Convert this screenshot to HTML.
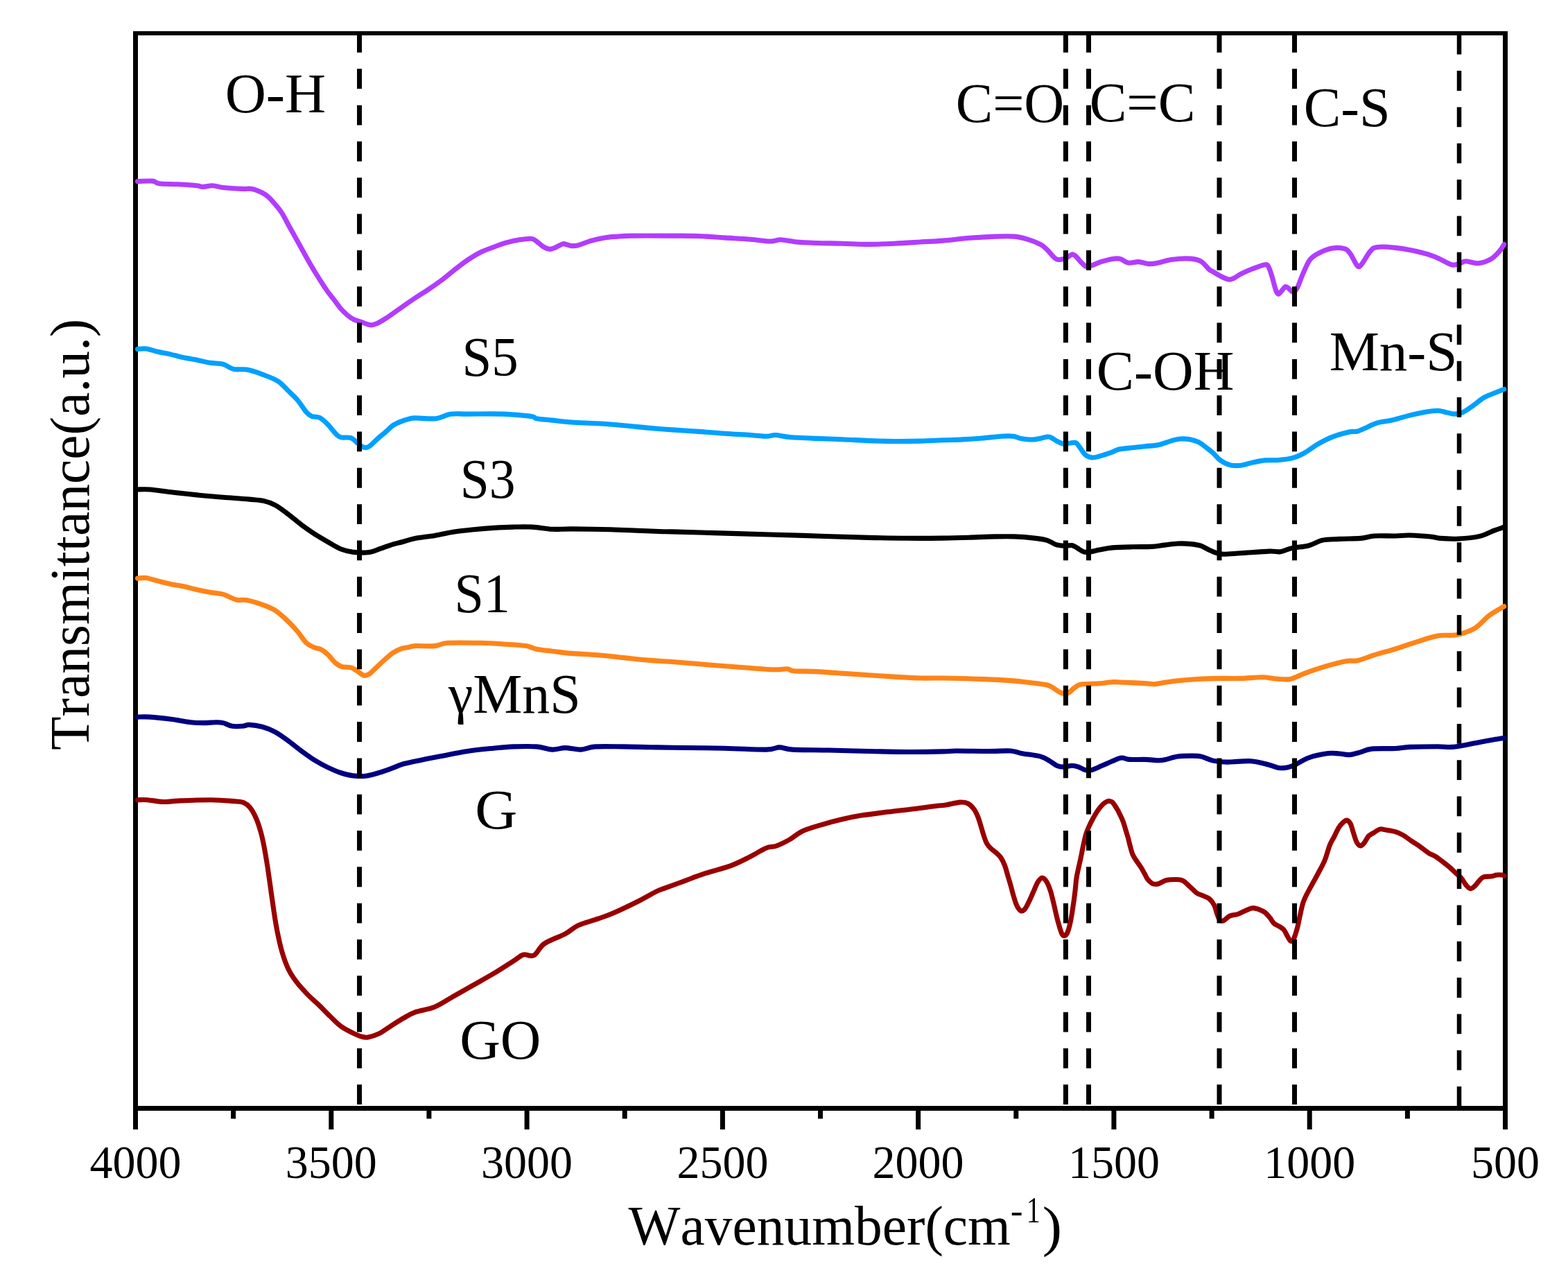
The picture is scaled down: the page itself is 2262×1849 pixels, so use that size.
<!DOCTYPE html><html><head><meta charset="utf-8"><title>FTIR</title><style>html,body{margin:0;padding:0;background:#fff;}svg{display:block;font-kerning:none;}</style></head><body><svg width="2262" height="1849" viewBox="0 0 2262 1849" font-family="'Liberation Serif', 'Times New Roman', serif" fill="#000"><rect width="100%" height="100%" fill="#fff"/><g fill="#000"><rect x="192" y="45" width="1983" height="6"/><rect x="192" y="1595" width="1983" height="7"/><rect x="192" y="45" width="7" height="1557"/><rect x="2168" y="45" width="7" height="1557"/><rect x="192.0" y="1600" width="7" height="29"/><rect x="474.3" y="1600" width="7" height="29"/><rect x="756.6" y="1600" width="7" height="29"/><rect x="1038.9" y="1600" width="7" height="29"/><rect x="1321.1" y="1600" width="7" height="29"/><rect x="1603.4" y="1600" width="7" height="29"/><rect x="1885.7" y="1600" width="7" height="29"/><rect x="2168.0" y="1600" width="7" height="29"/><rect x="333.1" y="1600" width="7" height="13.5"/><rect x="615.4" y="1600" width="7" height="13.5"/><rect x="897.7" y="1600" width="7" height="13.5"/><rect x="1180.0" y="1600" width="7" height="13.5"/><rect x="1462.3" y="1600" width="7" height="13.5"/><rect x="1744.6" y="1600" width="7" height="13.5"/><rect x="2026.9" y="1600" width="7" height="13.5"/></g><g fill="none" stroke-width="7.1" stroke-linejoin="round" stroke-linecap="round"><path d="M198.5 261.6C202.1 261.5 214.9 260.6 220.1 261.1C225.3 261.6 223.5 264.0 229.5 264.8C235.5 265.6 246.8 265.3 255.9 265.8C265.0 266.3 278.2 267.1 284.2 267.7C290.2 268.3 287.9 269.5 291.7 269.5C295.5 269.5 301.8 267.5 306.8 267.7C311.8 267.9 314.6 269.7 321.8 270.5C329.0 271.3 343.1 272.1 350.0 272.4C356.9 272.7 358.6 271.5 363.3 272.4C368.0 273.3 374.2 276.0 378.3 278.0C382.4 280.0 384.6 281.8 387.7 284.6C390.8 287.4 394.0 291.2 397.2 295.0C400.4 298.8 403.5 302.3 406.6 307.2C409.7 312.1 412.9 318.5 416.0 324.2C419.1 329.9 422.3 335.5 425.4 341.1C428.5 346.7 431.7 352.4 434.8 358.0C437.9 363.6 441.1 369.5 444.2 375.0C447.3 380.5 450.5 385.8 453.6 391.0C456.8 396.2 460.0 401.2 463.1 406.1C466.2 411.0 469.4 415.8 472.5 420.2C475.6 424.6 478.8 428.3 481.9 432.4C485.0 436.5 488.2 441.1 491.3 444.7C494.4 448.3 497.6 451.4 500.7 454.1C503.8 456.8 506.7 459.0 510.2 460.7C513.7 462.4 517.4 463.1 521.5 464.5C525.6 465.9 530.9 468.5 534.6 468.8C538.4 469.1 540.2 468.1 544.0 466.4C547.8 464.7 551.9 462.3 557.2 458.8C562.5 455.3 569.1 450.4 576.0 445.6C582.9 440.8 591.8 434.5 598.8 429.9C605.8 425.2 611.4 421.9 617.7 417.7C624.0 413.5 630.2 409.2 636.5 404.5C642.8 399.8 649.0 394.4 655.3 389.5C661.6 384.6 667.9 379.6 674.2 375.3C680.5 371.1 686.7 367.1 693.0 364.0C699.3 360.9 705.5 358.9 711.8 356.5C718.1 354.1 724.4 351.7 730.7 349.9C737.0 348.1 743.5 346.7 749.5 345.8C755.5 344.9 762.3 343.9 766.4 344.3C770.5 344.7 771.2 346.1 774.0 348.0C776.8 349.9 780.3 353.7 783.4 355.6C786.5 357.5 790.0 359.0 792.8 359.3C795.6 359.6 797.2 358.6 800.3 357.4C803.4 356.1 808.8 352.6 811.6 351.8C814.4 351.0 815.1 352.2 817.3 352.7C819.5 353.2 822.0 354.4 824.8 354.6C827.6 354.8 829.5 354.9 834.2 353.7C838.9 352.4 846.8 348.9 853.1 347.1C859.4 345.3 865.6 343.9 871.9 342.9C878.2 341.9 884.4 341.6 890.7 341.1C897.0 340.6 896.4 340.3 909.6 340.1C922.8 339.9 953.6 340.0 970.0 340.1C986.4 340.2 995.2 340.0 1007.7 340.5C1020.2 341.0 1032.8 342.1 1045.3 342.9C1057.8 343.7 1072.0 344.3 1083.0 345.2C1094.0 346.1 1104.0 347.9 1111.2 348.0C1118.4 348.1 1120.0 345.6 1126.3 345.8C1132.6 346.0 1140.4 348.2 1148.9 349.0C1157.4 349.8 1166.2 350.1 1177.2 350.5C1188.2 350.9 1202.9 350.9 1214.8 351.2C1226.7 351.5 1236.1 352.4 1248.7 352.4C1261.3 352.4 1277.0 351.8 1290.2 351.2C1303.4 350.6 1316.2 349.7 1327.8 349.0C1339.4 348.3 1348.3 348.1 1360.0 347.1C1371.7 346.2 1385.2 344.3 1397.7 343.3C1410.2 342.3 1424.3 341.5 1435.3 341.1C1446.3 340.7 1455.8 340.4 1463.6 341.1C1471.4 341.8 1476.1 343.3 1482.4 345.2C1488.7 347.1 1496.5 350.2 1501.2 352.7C1505.9 355.2 1507.2 357.0 1510.7 360.3C1514.2 363.6 1518.9 370.1 1522.0 372.5C1525.1 374.9 1526.7 374.5 1529.5 374.4C1532.3 374.2 1536.1 372.9 1538.9 371.6C1541.7 370.4 1544.2 367.2 1546.4 366.9C1548.6 366.6 1549.9 367.8 1552.1 369.7C1554.3 371.6 1557.1 375.7 1559.6 378.2C1562.1 380.7 1564.7 383.9 1567.2 384.7C1569.7 385.5 1570.9 384.1 1574.7 382.9C1578.5 381.6 1584.8 378.8 1589.8 377.2C1594.8 375.6 1600.4 374.0 1604.8 373.4C1609.2 372.8 1612.3 372.4 1616.1 373.4C1619.9 374.3 1623.0 378.4 1627.4 379.1C1631.8 379.8 1637.5 377.4 1642.5 377.6C1647.5 377.9 1652.9 380.4 1657.6 380.6C1662.3 380.9 1665.4 380.1 1670.7 379.1C1676.0 378.1 1681.8 375.4 1689.6 374.4C1697.4 373.4 1710.6 372.6 1717.8 373.1C1725.0 373.6 1728.5 374.6 1732.9 377.2C1737.3 379.8 1741.4 386.1 1744.2 388.5C1747.0 390.9 1747.3 390.3 1750.0 391.9C1752.7 393.5 1756.4 396.0 1760.1 397.9C1763.8 399.8 1768.9 402.5 1772.3 403.0C1775.7 403.5 1777.4 402.4 1780.4 401.0C1783.4 399.6 1786.1 397.1 1790.5 394.9C1794.9 392.7 1801.0 390.0 1806.7 387.8C1812.4 385.6 1821.0 382.2 1824.9 381.7C1828.8 381.2 1828.3 381.9 1830.0 384.8C1831.7 387.7 1833.3 393.5 1835.0 398.9C1836.7 404.3 1838.6 413.0 1840.1 417.2C1841.6 421.4 1842.6 424.0 1844.1 424.3C1845.6 424.6 1847.5 421.0 1849.2 419.2C1850.9 417.4 1852.6 414.0 1854.3 413.5C1856.0 413.0 1857.4 414.9 1859.3 416.2C1861.2 417.5 1863.4 421.4 1865.4 421.2C1867.4 421.0 1869.1 419.5 1871.5 415.1C1873.9 410.7 1876.6 401.6 1879.6 394.9C1882.6 388.2 1886.0 379.6 1889.7 374.7C1893.4 369.8 1896.4 368.3 1901.8 365.5C1907.2 362.7 1915.7 359.2 1922.1 358.1C1928.5 357.0 1935.9 357.5 1940.3 358.9C1944.7 360.3 1945.4 362.5 1948.4 366.6C1951.4 370.8 1955.8 381.5 1958.5 383.8C1961.2 386.1 1961.6 384.2 1964.6 380.7C1967.6 377.1 1973.0 366.6 1976.7 362.5C1980.4 358.4 1980.7 357.2 1986.8 356.4C1992.9 355.5 2003.8 356.4 2013.2 357.4C2022.7 358.4 2034.1 360.4 2043.5 362.5C2052.9 364.6 2061.4 367.0 2069.8 370.2C2078.2 373.4 2088.0 380.1 2094.1 381.7C2100.2 383.3 2102.9 380.5 2106.3 379.7C2109.7 378.9 2110.0 376.7 2114.4 376.7C2118.8 376.7 2126.5 380.2 2132.6 379.7C2138.7 379.2 2145.7 376.5 2150.8 373.6C2155.9 370.7 2159.8 366.0 2163.0 362.5C2166.2 359.0 2168.7 354.1 2169.8 352.4" stroke="#b23cff"/><path d="M198.5 503.5C200.5 503.4 205.8 502.4 210.7 503.0C215.6 503.6 221.7 505.9 227.7 507.3C233.7 508.7 240.2 509.7 246.5 511.1C252.8 512.5 259.0 514.4 265.3 515.8C271.6 517.1 277.9 518.0 284.2 519.2C290.5 520.5 296.7 522.3 303.0 523.3C309.3 524.3 316.2 523.7 321.8 525.2C327.4 526.7 331.2 531.1 336.9 532.4C342.5 533.7 348.8 531.9 355.7 533.1C362.6 534.4 370.8 537.1 378.3 539.9C385.8 542.7 394.6 545.7 400.9 549.7C407.2 553.7 411.3 559.2 416.0 563.8C420.7 568.3 424.8 571.8 429.2 577.0C433.6 582.2 438.9 591.0 442.4 594.9C445.8 598.8 446.8 599.2 449.9 600.5C453.0 601.8 457.4 600.5 461.2 602.4C465.0 604.3 468.7 608.0 472.5 611.8C476.3 615.6 480.7 621.9 483.8 625.0C486.9 628.1 487.5 629.6 491.3 630.7C495.1 631.8 502.3 630.2 506.4 631.6C510.5 633.0 512.7 636.8 515.8 639.1C518.9 641.4 522.4 644.5 525.2 645.3C528.0 646.1 529.7 645.8 532.8 643.8C535.9 641.8 539.9 637.1 544.0 633.5C548.1 629.9 553.4 625.5 557.2 622.2C561.0 618.9 563.1 616.1 566.6 613.7C570.1 611.4 574.1 609.7 578.0 608.1C581.9 606.5 586.5 605.2 590.0 604.3C593.5 603.4 592.3 603.0 598.8 602.9C605.3 602.8 620.5 604.6 629.0 603.7C637.5 602.8 642.2 598.4 649.7 597.3C657.2 596.2 661.3 597.1 674.2 597.1C687.1 597.1 711.5 596.5 726.9 597.1C742.3 597.7 758.5 599.4 766.4 600.5C774.2 601.6 769.0 602.8 774.0 603.7C779.0 604.6 788.1 605.2 796.6 606.1C805.1 607.0 813.8 608.2 824.8 609.0C835.8 609.8 849.9 610.0 862.5 610.8C875.1 611.6 887.7 612.6 900.2 613.7C912.8 614.8 926.2 616.4 937.8 617.4C949.4 618.4 958.4 619.1 970.0 619.9C981.6 620.7 995.2 621.5 1007.7 622.4C1020.2 623.3 1032.8 624.4 1045.3 625.2C1057.8 626.1 1073.0 626.8 1083.0 627.5C1093.0 628.2 1099.6 629.3 1105.6 629.3C1111.6 629.3 1113.1 627.3 1118.8 627.5C1124.5 627.7 1129.8 629.7 1139.5 630.5C1149.2 631.3 1164.7 631.9 1177.2 632.4C1189.8 632.9 1202.2 633.2 1214.8 633.7C1227.3 634.2 1239.9 635.1 1252.5 635.6C1265.1 636.1 1277.7 636.4 1290.2 636.5C1302.8 636.6 1316.2 636.4 1327.8 636.1C1339.4 635.8 1349.9 635.2 1360.0 634.8C1370.1 634.4 1378.8 634.4 1388.2 633.9C1397.6 633.4 1407.1 632.8 1416.5 632.0C1425.9 631.2 1437.2 629.7 1444.7 629.2C1452.2 628.7 1457.0 628.7 1461.7 629.2C1466.4 629.7 1468.0 631.6 1473.0 632.4C1478.0 633.2 1485.5 634.3 1491.8 633.9C1498.1 633.5 1506.6 630.6 1510.7 630.1C1514.8 629.6 1514.1 630.2 1516.3 631.1C1518.5 632.0 1521.0 634.3 1523.8 635.8C1526.6 637.3 1530.1 639.3 1533.3 639.9C1536.5 640.5 1539.6 639.4 1542.7 639.2C1545.8 639.0 1549.6 637.6 1552.1 638.6C1554.6 639.6 1555.5 642.4 1557.7 645.2C1559.9 648.0 1562.5 653.2 1565.3 655.6C1568.1 658.0 1571.2 659.5 1574.7 659.9C1578.2 660.3 1581.0 659.4 1586.0 658.0C1591.0 656.6 1600.1 653.5 1604.8 651.8C1609.5 650.1 1609.5 649.0 1614.2 648.0C1618.9 647.0 1626.8 646.5 1633.1 645.8C1639.4 645.1 1645.6 644.4 1651.9 643.7C1658.2 643.0 1664.4 643.1 1670.7 641.8C1677.0 640.5 1684.3 637.3 1689.6 635.8C1694.9 634.3 1698.0 633.3 1702.7 633.0C1707.4 632.7 1713.4 633.1 1717.8 633.9C1722.2 634.7 1725.0 635.5 1729.1 637.7C1733.2 639.9 1738.8 644.5 1742.3 647.1C1745.8 649.7 1747.0 650.7 1750.0 653.4C1753.0 656.1 1756.0 660.6 1760.1 663.5C1764.1 666.4 1769.2 669.3 1774.3 670.6C1779.4 671.9 1785.1 671.8 1790.5 671.2C1795.9 670.6 1801.0 668.3 1806.7 667.1C1812.4 665.9 1818.5 664.5 1824.9 663.9C1831.3 663.3 1838.3 664.1 1845.1 663.5C1851.8 662.9 1859.3 662.1 1865.4 660.4C1871.5 658.7 1875.5 656.8 1881.6 653.4C1887.7 650.0 1895.0 644.1 1901.8 640.2C1908.5 636.3 1914.7 633.0 1922.1 630.1C1929.5 627.2 1940.3 624.4 1946.4 623.0C1952.5 621.6 1954.1 623.2 1958.5 622.0C1962.9 620.8 1968.0 617.9 1972.7 615.9C1977.4 613.9 1980.7 611.5 1986.8 609.8C1992.9 608.1 2001.3 607.6 2009.1 605.8C2016.9 604.0 2026.0 601.0 2033.4 599.1C2040.8 597.2 2046.8 595.9 2053.6 594.7C2060.3 593.6 2068.5 592.2 2073.9 592.2C2079.3 592.2 2081.9 593.9 2086.0 594.7C2090.1 595.5 2094.1 597.1 2098.2 597.1C2102.2 597.1 2105.9 596.6 2110.3 594.7C2114.7 592.8 2119.4 589.0 2124.5 585.5C2129.6 582.0 2135.6 576.4 2140.7 573.4C2145.8 570.4 2150.1 569.3 2154.9 567.3C2159.8 565.3 2167.3 562.3 2169.8 561.3" stroke="#00a0ff"/><path d="M198.5 706.0C201.5 706.0 208.4 705.4 216.4 706.0C224.4 706.6 235.2 708.5 246.5 709.8C257.8 711.1 271.6 712.6 284.2 713.9C296.8 715.1 309.2 716.3 321.8 717.3C334.4 718.3 349.8 719.2 359.5 720.1C369.2 721.0 373.9 721.0 380.2 722.4C386.5 723.8 391.2 725.4 397.2 728.6C403.2 731.8 409.7 737.1 416.0 741.8C422.3 746.5 428.5 752.2 434.8 756.9C441.1 761.6 447.3 765.9 453.6 770.0C459.9 774.1 466.2 777.7 472.5 781.3C478.8 784.9 485.0 789.2 491.3 791.7C497.6 794.2 503.3 795.6 510.2 796.4C517.1 797.2 526.5 797.2 532.8 796.4C539.1 795.6 542.2 793.6 547.8 791.7C553.4 789.8 561.2 786.8 566.6 785.1C572.0 783.5 574.6 783.2 580.0 781.8C585.4 780.4 590.9 778.1 598.8 776.5C606.6 774.9 617.7 774.0 627.1 772.4C636.5 770.8 645.9 768.5 655.3 767.1C664.7 765.7 674.2 764.7 683.6 763.7C693.0 762.8 702.4 762.0 711.8 761.4C721.2 760.8 730.7 760.3 740.1 760.1C749.5 759.9 758.9 759.6 768.3 760.1C777.7 760.6 787.2 762.8 796.6 763.3C806.0 763.8 810.7 762.8 824.8 762.9C838.9 763.0 865.6 763.3 881.3 763.7C897.0 764.1 906.5 764.7 919.0 765.2C931.5 765.7 948.1 766.4 956.6 766.7C965.1 767.0 952.1 766.4 970.0 766.9C987.9 767.4 1032.8 768.7 1064.2 769.6C1095.6 770.5 1126.9 771.4 1158.3 772.4C1189.7 773.4 1227.4 774.8 1252.5 775.4C1277.6 776.0 1291.1 776.2 1309.0 776.3C1326.9 776.4 1345.2 776.3 1360.0 776.1C1374.8 775.9 1385.2 775.6 1397.7 775.2C1410.2 774.8 1424.3 774.1 1435.3 773.9C1446.3 773.7 1454.2 773.5 1463.6 773.9C1473.0 774.3 1483.9 775.2 1491.8 776.1C1499.7 777.0 1505.4 777.7 1510.7 779.3C1516.0 780.9 1519.4 784.2 1523.8 785.6C1528.2 787.0 1533.2 787.2 1537.0 787.4C1540.8 787.5 1543.6 786.0 1546.4 786.5C1549.2 787.0 1551.2 788.7 1554.0 790.3C1556.8 791.9 1560.3 795.0 1563.4 795.9C1566.5 796.8 1569.0 796.4 1572.8 795.9C1576.6 795.4 1580.7 794.1 1586.0 793.1C1591.3 792.1 1597.0 790.6 1604.8 789.9C1612.6 789.2 1623.7 789.0 1633.1 788.8C1642.5 788.5 1653.4 788.8 1661.3 788.4C1669.2 788.0 1673.9 786.8 1680.2 786.1C1686.5 785.4 1692.7 784.2 1699.0 784.0C1705.3 783.8 1712.1 784.0 1717.8 784.6C1723.5 785.2 1728.2 785.8 1732.9 787.4C1737.6 789.0 1741.2 792.0 1746.1 794.0C1751.0 796.0 1754.7 798.5 1762.1 799.1C1769.5 799.7 1779.0 798.4 1790.5 797.7C1802.0 797.0 1821.5 795.4 1831.0 795.1C1840.5 794.8 1841.8 796.5 1847.2 795.7C1852.6 795.0 1856.7 792.1 1863.4 790.6C1870.2 789.1 1880.3 788.9 1887.7 787.0C1895.1 785.1 1900.5 780.7 1907.9 779.1C1915.3 777.5 1923.1 777.9 1932.2 777.4C1941.3 776.9 1954.2 777.1 1962.6 776.4C1971.0 775.7 1974.4 773.6 1982.8 773.0C1991.2 772.4 2004.8 773.2 2013.2 773.0C2021.6 772.8 2025.0 771.8 2033.4 772.0C2041.8 772.2 2056.4 773.3 2063.8 774.0C2071.2 774.7 2071.2 775.9 2077.9 776.4C2084.7 776.9 2094.9 777.5 2104.3 777.0C2113.8 776.5 2126.2 775.4 2134.6 773.4C2143.0 771.4 2149.0 767.5 2154.9 765.3C2160.8 763.1 2167.3 761.1 2169.8 760.2" stroke="#000000"/><path d="M198.5 834.1C200.5 834.0 205.8 832.9 210.7 833.5C215.6 834.1 221.7 836.4 227.7 837.9C233.7 839.4 240.2 841.1 246.5 842.4C252.8 843.7 259.0 844.4 265.3 845.8C271.6 847.1 277.9 849.1 284.2 850.5C290.5 851.9 296.7 853.2 303.0 854.3C309.3 855.4 315.5 855.3 321.8 857.1C328.1 858.9 335.1 863.6 340.7 865.0C346.3 866.4 349.4 864.4 355.7 865.6C362.0 866.8 371.4 869.6 378.3 872.1C385.2 874.6 390.9 876.5 397.2 880.6C403.5 884.7 410.7 891.6 416.0 896.6C421.3 901.6 424.8 905.6 429.2 910.8C433.6 916.0 438.3 923.9 442.4 927.7C446.5 931.6 450.2 932.4 453.6 933.9C457.1 935.4 460.0 935.0 463.1 936.6C466.2 938.2 469.1 940.5 472.5 943.7C475.9 946.9 480.4 953.0 483.8 956.0C487.2 959.0 489.4 960.5 493.2 961.6C497.0 962.8 502.6 961.8 506.4 962.9C510.2 964.0 512.7 966.3 515.8 968.2C518.9 970.1 522.4 973.6 525.2 974.2C528.0 974.8 529.7 974.1 532.8 972.0C535.9 969.9 539.9 965.4 544.0 961.6C548.1 957.8 553.4 952.7 557.2 949.4C561.0 946.1 563.1 944.1 566.6 941.8C570.1 939.5 574.1 937.2 578.0 935.8C581.9 934.4 586.5 934.1 590.0 933.4C593.5 932.7 592.6 931.9 598.8 931.6C605.0 931.3 619.2 932.3 627.1 931.6C635.0 930.9 634.9 928.0 645.9 927.3C656.9 926.6 678.9 927.0 693.0 927.3C707.1 927.6 719.7 928.5 730.7 929.2C741.7 929.9 751.7 930.4 758.9 931.6C766.1 932.8 767.7 934.9 774.0 936.2C780.3 937.5 788.1 938.2 796.6 939.2C805.1 940.2 813.8 941.5 824.8 942.4C835.8 943.3 849.9 943.8 862.5 944.8C875.1 945.8 887.7 947.3 900.2 948.6C912.8 949.9 926.2 951.4 937.8 952.4C949.4 953.4 955.2 953.4 970.0 954.5C984.8 955.6 1007.7 957.7 1026.5 959.2C1045.3 960.7 1067.9 962.4 1083.0 963.5C1098.1 964.6 1108.1 965.6 1116.9 965.8C1125.7 966.0 1131.0 964.5 1135.7 964.8C1140.4 965.1 1138.2 967.1 1145.1 967.7C1152.0 968.3 1165.6 968.0 1177.2 968.6C1188.8 969.2 1202.2 970.2 1214.8 971.1C1227.3 972.0 1239.9 972.9 1252.5 973.7C1265.1 974.5 1277.7 975.4 1290.2 976.1C1302.8 976.8 1316.2 977.7 1327.8 978.0C1339.4 978.3 1346.8 977.8 1360.0 978.0C1373.2 978.2 1391.4 978.6 1407.1 979.2C1422.8 979.8 1440.1 980.4 1454.2 981.4C1468.3 982.4 1482.4 984.1 1491.8 985.2C1501.2 986.3 1506.0 986.8 1510.7 988.0C1515.4 989.2 1517.0 990.9 1520.1 992.7C1523.2 994.5 1526.7 997.5 1529.5 998.8C1532.3 1000.1 1534.8 1000.4 1537.0 1000.3C1539.2 1000.2 1540.5 999.8 1542.7 998.4C1544.9 997.0 1547.4 993.7 1550.2 991.8C1553.0 989.9 1553.6 988.1 1559.6 987.1C1565.6 986.1 1578.5 986.4 1586.0 985.8C1593.5 985.2 1598.5 984.0 1604.8 983.7C1611.1 983.5 1615.8 984.0 1623.6 984.3C1631.4 984.6 1645.0 985.2 1651.9 985.6C1658.8 986.0 1660.4 986.9 1665.1 986.7C1669.8 986.5 1674.5 985.1 1680.2 984.3C1685.9 983.5 1691.2 982.6 1699.0 981.8C1706.8 981.0 1717.0 980.1 1727.2 979.5C1737.4 978.9 1749.5 978.6 1760.0 978.4C1770.5 978.2 1780.3 978.7 1790.5 978.4C1800.7 978.1 1812.5 976.7 1820.9 976.8C1829.3 976.9 1834.4 978.6 1841.1 979.0C1847.8 979.4 1854.5 980.7 1861.3 979.4C1868.0 978.1 1873.2 974.3 1881.6 971.3C1890.0 968.3 1901.8 964.2 1911.9 961.2C1922.0 958.2 1934.5 954.9 1942.3 953.5C1950.1 952.1 1951.8 954.2 1958.5 952.7C1965.2 951.2 1973.7 947.4 1982.8 944.6C1991.9 941.8 2003.1 939.0 2013.2 935.9C2023.3 932.8 2033.4 928.9 2043.5 925.8C2053.6 922.7 2065.5 918.7 2073.9 917.1C2082.3 915.5 2088.7 916.7 2094.1 916.3C2099.5 915.9 2100.6 916.5 2106.3 914.7C2112.0 912.9 2121.4 910.1 2128.5 905.5C2135.6 900.9 2141.9 892.4 2148.8 887.3C2155.7 882.1 2166.3 876.7 2169.8 874.6" stroke="#ff8418"/><path d="M198.5 1034.1C201.5 1034.1 208.4 1033.6 216.4 1034.1C224.4 1034.6 236.8 1036.0 246.5 1037.3C256.2 1038.6 266.8 1040.8 274.7 1041.7C282.6 1042.6 287.3 1042.6 293.6 1042.6C299.9 1042.6 307.7 1041.7 312.4 1041.7C317.1 1041.7 318.0 1041.7 321.8 1042.6C325.6 1043.5 330.3 1046.5 335.0 1047.3C339.7 1048.1 346.0 1047.6 350.1 1047.3C354.2 1047.0 354.8 1045.2 359.5 1045.4C364.2 1045.6 372.0 1046.5 378.3 1048.2C384.6 1049.9 390.9 1052.4 397.2 1055.8C403.5 1059.2 409.7 1064.0 416.0 1068.6C422.3 1073.1 428.5 1078.5 434.8 1083.1C441.1 1087.7 447.3 1092.4 453.6 1096.3C459.9 1100.2 466.2 1103.6 472.5 1106.6C478.8 1109.6 485.0 1112.5 491.3 1114.5C497.6 1116.5 503.9 1118.2 510.2 1118.9C516.5 1119.6 522.7 1119.7 529.0 1118.9C535.3 1118.1 541.5 1116.1 547.8 1114.2C554.1 1112.3 561.2 1109.6 566.6 1107.6C572.0 1105.6 574.6 1104.0 580.0 1102.4C585.4 1100.8 589.4 1100.0 598.8 1098.0C608.2 1096.0 623.9 1092.9 636.5 1090.5C649.1 1088.1 661.7 1085.4 674.2 1083.5C686.8 1081.6 700.8 1080.3 711.8 1079.2C722.8 1078.1 729.7 1077.3 740.1 1076.9C750.5 1076.5 764.6 1076.2 774.0 1076.9C783.4 1077.6 789.7 1080.8 796.6 1081.1C803.5 1081.4 808.5 1078.6 815.4 1078.6C822.3 1078.6 830.8 1081.4 838.0 1081.1C845.2 1080.8 848.3 1077.6 858.7 1076.9C869.1 1076.2 887.0 1076.8 900.2 1076.9C913.4 1077.0 926.2 1077.5 937.8 1077.7C949.4 1077.9 952.1 1078.0 970.0 1078.2C987.9 1078.5 1022.7 1078.7 1045.3 1079.2C1067.9 1079.7 1092.4 1081.3 1105.6 1081.1C1118.8 1080.9 1118.1 1077.9 1124.4 1077.9C1130.7 1077.9 1131.4 1080.4 1143.3 1081.1C1155.2 1081.8 1177.8 1081.6 1196.0 1082.0C1214.2 1082.4 1233.7 1083.1 1252.5 1083.5C1271.3 1083.9 1291.1 1084.4 1309.0 1084.5C1326.9 1084.6 1348.4 1084.2 1360.0 1083.9C1371.6 1083.7 1367.8 1083.1 1378.8 1083.0C1389.8 1082.9 1412.7 1083.5 1425.9 1083.5C1439.1 1083.5 1450.1 1082.5 1457.9 1083.0C1465.8 1083.5 1465.8 1085.1 1473.0 1086.4C1480.2 1087.8 1494.3 1089.2 1501.2 1091.1C1508.1 1093.0 1510.3 1095.4 1514.4 1097.7C1518.5 1100.0 1522.2 1103.4 1525.7 1104.8C1529.2 1106.2 1531.6 1106.2 1535.1 1106.1C1538.5 1106.0 1542.9 1104.3 1546.4 1104.3C1549.9 1104.3 1552.8 1105.1 1555.9 1106.1C1559.1 1107.1 1562.2 1109.8 1565.3 1110.5C1568.4 1111.2 1570.6 1111.5 1574.7 1110.5C1578.8 1109.5 1584.8 1106.4 1589.8 1104.3C1594.8 1102.2 1600.1 1099.6 1604.8 1097.7C1609.5 1095.8 1613.9 1093.4 1618.0 1093.0C1622.1 1092.6 1623.6 1095.0 1629.3 1095.4C1635.0 1095.8 1645.0 1095.2 1651.9 1095.4C1658.8 1095.6 1666.0 1096.6 1670.7 1096.7C1675.4 1096.8 1675.5 1096.7 1680.2 1095.8C1684.9 1094.9 1692.7 1092.0 1699.0 1091.1C1705.3 1090.1 1712.1 1090.1 1717.8 1090.1C1723.5 1090.1 1727.5 1089.9 1732.9 1091.1C1738.3 1092.3 1743.8 1095.8 1750.0 1097.1C1756.2 1098.4 1761.1 1099.0 1770.2 1099.1C1779.3 1099.2 1794.6 1097.0 1804.7 1097.7C1814.8 1098.4 1823.9 1101.5 1831.0 1103.2C1838.1 1104.9 1841.5 1107.6 1847.2 1107.8C1852.9 1108.0 1858.7 1106.9 1865.4 1104.4C1872.2 1101.9 1879.3 1096.0 1887.7 1093.0C1896.1 1090.0 1908.6 1087.6 1916.0 1086.6C1923.4 1085.6 1927.1 1086.7 1932.2 1087.0C1937.3 1087.3 1941.3 1088.9 1946.4 1088.6C1951.5 1088.2 1957.2 1086.3 1962.6 1084.9C1968.0 1083.5 1970.3 1081.0 1978.7 1080.1C1987.1 1079.2 2004.1 1080.0 2013.2 1079.5C2022.3 1079.0 2023.3 1077.9 2033.4 1077.4C2043.5 1077.0 2063.8 1076.8 2073.9 1076.8C2084.0 1076.8 2087.3 1077.8 2094.1 1077.4C2100.8 1077.0 2107.7 1075.6 2114.4 1074.4C2121.2 1073.2 2127.8 1071.7 2134.6 1070.4C2141.3 1069.1 2149.0 1067.7 2154.9 1066.7C2160.8 1065.7 2167.3 1064.7 2169.8 1064.3" stroke="#000080"/><path d="M198.5 1153.7C200.9 1153.7 206.7 1153.2 213.0 1153.7C219.3 1154.2 228.4 1156.3 236.1 1156.5C243.8 1156.7 247.6 1155.4 259.1 1154.9C270.6 1154.4 291.8 1153.6 305.2 1153.7C318.6 1153.8 332.1 1155.2 339.8 1155.8C347.5 1156.4 347.9 1156.1 351.3 1157.6C354.8 1159.1 357.4 1160.8 360.5 1164.6C363.6 1168.4 367.0 1174.6 369.7 1180.7C372.4 1186.8 374.7 1194.5 376.6 1201.4C378.5 1208.3 379.6 1214.1 381.2 1222.2C382.8 1230.3 384.3 1239.8 385.9 1249.8C387.4 1259.8 389.0 1271.3 390.5 1282.1C392.0 1292.8 393.6 1304.3 395.1 1314.3C396.6 1324.3 397.8 1332.4 399.7 1342.0C401.6 1351.6 403.9 1362.7 406.6 1371.9C409.3 1381.1 412.4 1390.0 415.8 1397.3C419.2 1404.6 422.7 1409.6 427.3 1415.7C431.9 1421.8 438.1 1428.5 443.5 1434.1C448.9 1439.7 454.2 1443.9 459.6 1449.1C465.0 1454.3 470.3 1460.1 475.7 1465.3C481.1 1470.5 486.4 1476.2 491.8 1480.2C497.2 1484.2 503.0 1486.9 508.0 1489.4C513.0 1491.9 518.0 1494.1 521.8 1495.2C525.6 1496.3 526.8 1496.7 531.0 1495.9C535.2 1495.1 541.7 1493.2 547.1 1490.6C552.5 1488.0 557.5 1483.8 563.3 1480.2C569.1 1476.6 575.8 1472.1 581.7 1468.7C587.6 1465.3 591.2 1462.5 598.8 1459.8C606.4 1457.1 617.7 1456.2 627.1 1452.3C636.5 1448.4 645.9 1441.6 655.3 1436.3C664.7 1431.0 674.2 1425.6 683.6 1420.3C693.0 1415.0 702.4 1409.9 711.8 1404.3C721.2 1398.7 732.9 1391.0 740.1 1386.4C747.3 1381.9 750.1 1378.4 755.1 1377.0C760.1 1375.6 765.2 1380.6 770.2 1377.9C775.2 1375.2 777.8 1366.2 785.3 1361.0C792.8 1355.8 807.2 1351.3 815.4 1346.9C823.5 1342.5 826.4 1338.2 834.2 1334.6C842.1 1331.0 854.0 1328.2 862.5 1325.2C871.0 1322.2 875.7 1320.8 885.1 1316.7C894.5 1312.6 908.6 1305.9 919.0 1300.7C929.4 1295.5 940.4 1288.9 947.2 1285.6C954.0 1282.3 953.2 1283.2 960.0 1280.7C966.8 1278.2 978.8 1273.8 988.2 1270.3C997.6 1266.8 1005.5 1263.5 1016.5 1259.9C1027.5 1256.3 1043.2 1252.7 1054.2 1248.6C1065.2 1244.5 1073.9 1239.7 1082.4 1235.5C1090.9 1231.3 1098.7 1225.8 1105.0 1223.2C1111.3 1220.6 1114.4 1222.0 1120.1 1220.0C1125.8 1218.0 1132.6 1214.5 1138.9 1211.0C1145.2 1207.5 1149.9 1202.3 1157.7 1198.7C1165.5 1195.1 1176.6 1192.1 1186.0 1189.3C1195.4 1186.5 1204.8 1184.0 1214.2 1181.8C1223.6 1179.6 1231.5 1177.9 1242.5 1176.1C1253.5 1174.3 1267.7 1172.7 1280.2 1171.1C1292.8 1169.5 1306.2 1168.1 1317.8 1166.7C1329.4 1165.3 1342.2 1163.5 1350.0 1162.5C1357.8 1161.5 1358.6 1161.9 1364.4 1161.0C1370.2 1160.1 1379.3 1157.5 1384.6 1157.1C1389.9 1156.7 1392.8 1157.2 1396.1 1158.8C1399.4 1160.4 1402.3 1163.6 1404.7 1166.7C1407.1 1169.8 1408.8 1173.5 1410.5 1177.5C1412.2 1181.5 1413.4 1185.9 1414.8 1190.5C1416.2 1195.1 1417.6 1200.6 1419.1 1204.9C1420.5 1209.2 1421.8 1213.3 1423.5 1216.4C1425.2 1219.5 1427.0 1221.4 1429.2 1223.6C1431.4 1225.8 1434.0 1227.2 1436.4 1229.4C1438.8 1231.6 1441.4 1233.5 1443.6 1236.6C1445.8 1239.7 1447.7 1243.8 1449.4 1248.1C1451.1 1252.4 1452.3 1257.7 1453.7 1262.5C1455.1 1267.3 1456.6 1271.9 1458.0 1276.9C1459.4 1282.0 1460.8 1288.0 1462.3 1292.8C1463.8 1297.6 1465.0 1302.2 1466.7 1305.7C1468.4 1309.2 1470.5 1312.6 1472.4 1313.6C1474.3 1314.6 1476.3 1313.5 1478.2 1311.5C1480.1 1309.5 1481.8 1305.7 1483.9 1301.4C1486.1 1297.1 1488.9 1290.4 1491.1 1285.6C1493.3 1280.8 1494.9 1275.8 1496.9 1272.6C1499.0 1269.3 1501.2 1266.2 1503.4 1266.1C1505.6 1266.0 1507.9 1268.7 1509.9 1271.9C1511.9 1275.2 1513.9 1280.4 1515.6 1285.6C1517.3 1290.8 1518.5 1296.8 1520.0 1302.8C1521.5 1308.8 1522.9 1315.8 1524.3 1321.6C1525.7 1327.4 1527.3 1333.1 1528.6 1337.4C1529.9 1341.7 1531.0 1345.5 1532.2 1347.5C1533.4 1349.5 1534.5 1350.1 1535.8 1349.6C1537.1 1349.1 1538.7 1348.1 1540.1 1344.6C1541.5 1341.1 1543.1 1335.0 1544.4 1328.8C1545.7 1322.6 1546.9 1314.4 1548.0 1307.2C1549.1 1300.0 1550.1 1292.6 1550.9 1285.6C1551.8 1278.6 1551.8 1273.4 1553.1 1265.4C1554.4 1257.5 1557.4 1245.4 1559.0 1237.9C1560.6 1230.4 1561.2 1226.3 1562.5 1220.6C1563.8 1214.8 1565.1 1208.2 1566.5 1203.4C1567.9 1198.6 1569.4 1195.7 1571.1 1191.8C1572.8 1187.9 1574.8 1184.1 1576.9 1180.3C1579.0 1176.5 1581.5 1172.1 1583.8 1168.8C1586.1 1165.5 1588.4 1162.4 1590.7 1160.2C1593.0 1158.0 1595.9 1156.4 1597.6 1155.6C1599.3 1154.8 1599.8 1155.2 1601.0 1155.5C1602.2 1155.8 1603.8 1156.0 1605.1 1157.3C1606.4 1158.5 1607.8 1161.1 1609.1 1163.0C1610.3 1164.9 1611.5 1166.9 1612.6 1168.8C1613.7 1170.7 1614.5 1172.7 1615.5 1174.6C1616.5 1176.5 1617.5 1178.4 1618.3 1180.3C1619.1 1182.2 1619.9 1184.2 1620.6 1186.1C1621.3 1188.0 1621.8 1189.9 1622.4 1191.8C1623.0 1193.7 1623.2 1194.7 1624.1 1197.6C1625.0 1200.5 1626.5 1205.3 1627.6 1209.1C1628.6 1212.9 1629.4 1216.8 1630.4 1220.6C1631.5 1224.4 1632.6 1229.0 1633.9 1232.2C1635.2 1235.4 1636.1 1236.5 1638.1 1239.5C1640.0 1242.5 1643.4 1246.9 1645.6 1250.4C1647.8 1253.9 1649.6 1257.3 1651.3 1260.3C1653.0 1263.2 1653.6 1265.8 1655.5 1268.1C1657.4 1270.4 1660.0 1273.3 1662.6 1274.4C1665.2 1275.5 1667.8 1275.5 1671.1 1274.7C1674.4 1273.9 1678.2 1270.5 1682.4 1269.5C1686.6 1268.5 1692.5 1268.4 1696.5 1268.5C1700.5 1268.6 1703.1 1268.5 1706.4 1270.2C1709.7 1271.9 1713.0 1275.7 1716.3 1278.6C1719.6 1281.5 1722.9 1285.5 1726.2 1287.8C1729.5 1290.0 1733.0 1290.7 1736.0 1292.1C1739.0 1293.5 1741.9 1294.1 1744.5 1296.3C1747.1 1298.5 1749.7 1301.8 1751.6 1305.5C1753.5 1309.2 1754.4 1314.5 1755.8 1318.2C1757.2 1321.9 1758.4 1325.9 1760.1 1327.4C1761.8 1328.9 1763.3 1328.5 1765.7 1327.4C1768.1 1326.3 1770.9 1322.5 1774.2 1321.0C1777.5 1319.5 1782.0 1319.7 1785.5 1318.5C1789.0 1317.3 1791.9 1315.5 1795.4 1314.0C1798.9 1312.5 1803.2 1310.1 1806.7 1309.7C1810.2 1309.3 1813.5 1310.7 1816.6 1311.8C1819.6 1312.9 1822.4 1314.1 1825.0 1316.1C1827.6 1318.1 1830.0 1321.2 1832.1 1323.8C1834.2 1326.4 1835.6 1329.6 1837.7 1331.6C1839.8 1333.6 1842.4 1334.3 1844.8 1335.8C1847.2 1337.3 1849.8 1338.3 1851.9 1340.8C1854.0 1343.3 1855.9 1348.0 1857.5 1350.7C1859.1 1353.4 1860.3 1356.3 1861.7 1357.0C1863.1 1357.7 1864.3 1358.1 1866.0 1354.9C1867.7 1351.7 1869.9 1344.1 1871.6 1338.0C1873.2 1331.9 1874.5 1324.3 1875.9 1318.2C1877.3 1312.1 1878.4 1306.2 1880.1 1301.2C1881.8 1296.2 1883.4 1293.2 1885.8 1288.5C1888.2 1283.8 1891.4 1278.2 1894.2 1273.0C1897.0 1267.8 1899.9 1262.9 1902.7 1257.5C1905.5 1252.1 1908.6 1246.9 1911.2 1240.5C1913.8 1234.1 1915.9 1225.0 1918.2 1219.3C1920.5 1213.6 1922.8 1210.5 1924.9 1206.3C1927.0 1202.1 1929.0 1197.4 1931.0 1194.1C1933.0 1190.8 1935.2 1188.5 1937.1 1186.7C1939.0 1184.9 1940.8 1182.9 1942.6 1183.1C1944.4 1183.3 1946.7 1185.3 1948.2 1188.0C1949.7 1190.7 1950.4 1194.7 1951.8 1199.0C1953.2 1203.3 1955.0 1210.2 1956.7 1213.7C1958.4 1217.2 1960.4 1219.4 1962.2 1219.8C1964.0 1220.2 1965.8 1218.3 1967.7 1216.1C1969.7 1213.8 1971.7 1208.8 1973.9 1206.3C1976.2 1203.8 1978.4 1203.1 1981.2 1201.4C1984.0 1199.7 1987.9 1196.6 1991.0 1195.9C1994.1 1195.2 1995.9 1196.5 1999.6 1197.1C2003.3 1197.7 2008.9 1198.4 2013.0 1199.6C2017.1 1200.8 2020.2 1202.3 2024.1 1204.5C2028.0 1206.7 2032.2 1210.2 2036.3 1213.0C2040.4 1215.8 2044.4 1218.1 2048.5 1221.0C2052.6 1223.9 2057.1 1227.9 2060.8 1230.2C2064.5 1232.5 2067.6 1233.3 2070.6 1235.1C2073.6 1236.9 2075.6 1238.5 2079.1 1241.2C2082.6 1243.9 2087.7 1247.8 2091.4 1251.0C2095.1 1254.2 2098.3 1257.5 2101.2 1260.2C2104.0 1262.9 2106.3 1264.2 2108.5 1266.9C2110.7 1269.6 2112.5 1273.6 2114.6 1276.1C2116.7 1278.5 2118.8 1281.2 2120.8 1281.6C2122.9 1282.0 2124.7 1280.4 2126.9 1278.5C2129.1 1276.6 2132.0 1272.3 2134.2 1270.0C2136.4 1267.7 2137.2 1265.8 2140.3 1264.8C2143.4 1263.8 2149.5 1264.3 2152.6 1263.8C2155.7 1263.3 2156.2 1262.3 2158.7 1262.0C2161.1 1261.7 2165.5 1261.8 2167.3 1262.0C2169.2 1262.2 2169.4 1263.0 2169.8 1263.2" stroke="#990000"/></g><g stroke="#000" stroke-width="7" stroke-dasharray="28.8 23.52"><line x1="518.5" y1="47.0" x2="518.5" y2="1593"/><line x1="1537.4" y1="47.0" x2="1537.4" y2="1593"/><line x1="1570.5" y1="47.0" x2="1570.5" y2="1593"/><line x1="1759.0" y1="47.0" x2="1759.0" y2="1593"/><line x1="1867.5" y1="47.0" x2="1867.5" y2="1593"/><line x1="2105" y1="49.8" x2="2105" y2="1597" stroke-width="6.5"/></g><g font-size="66"><text transform="matrix(1 0 0 1.032 0 1699.2)" x="195.5" y="0" text-anchor="middle">4000</text><text transform="matrix(1 0 0 1.032 0 1699.2)" x="477.8" y="0" text-anchor="middle">3500</text><text transform="matrix(1 0 0 1.032 0 1699.2)" x="760.1" y="0" text-anchor="middle">3000</text><text transform="matrix(1 0 0 1.032 0 1699.2)" x="1042.4" y="0" text-anchor="middle">2500</text><text transform="matrix(1 0 0 1.032 0 1699.2)" x="1324.6" y="0" text-anchor="middle">2000</text><text transform="matrix(1 0 0 1.032 0 1699.2)" x="1606.9" y="0" text-anchor="middle">1500</text><text transform="matrix(1 0 0 1.032 0 1699.2)" x="1889.2" y="0" text-anchor="middle">1000</text><text transform="matrix(1 0 0 1.032 0 1699.2)" x="2171.5" y="0" text-anchor="middle">500</text></g><g font-size="80"><text transform="matrix(1.0234 0 0 1 -7.86 -0.15)" x="325.00" y="162.00" font-size="80">O-H</text><text transform="matrix(1.0020 0 0 1 -3.06 1.00)" x="1379.00" y="175.00" font-size="80">C=O</text><text transform="matrix(1.0062 0 0 1 -10.08 0.15)" x="1572.00" y="174.50" font-size="80">C=C</text><text transform="matrix(1.0043 0 0 1 -8.35 -0.05)" x="1881.00" y="182.00" font-size="80">C-S</text><text transform="matrix(0.9618 0 0 1 26.40 -0.15)" x="665.50" y="542.00" font-size="80">S5</text><text transform="matrix(1.0158 0 0 1 -25.13 0.85)" x="1582.00" y="561.40" font-size="80">C-OH</text><text transform="matrix(1.0136 0 0 1 -26.38 0.40)" x="1918.00" y="534.00" font-size="80">Mn-S</text><text transform="matrix(0.9442 0 0 1 38.75 -0.10)" x="662.00" y="718.00" font-size="80">S3</text><text transform="matrix(0.9514 0 0 1 33.66 -0.20)" x="653.50" y="883.00" font-size="80">S1</text><text transform="matrix(0.9995 0 0 1 0.25 0.45)" x="647.00" y="1028.00" font-size="80">γMnS</text><text transform="matrix(1.0577 0 0 1 -41.87 0.65)" x="687.50" y="1194.00" font-size="80">G</text><text transform="matrix(1.0145 0 0 1 -10.70 0.25)" x="664.30" y="1527.00" font-size="80">GO</text><text transform="matrix(0.9930 0 0 1 5.27 -0.50)" x="907.60" y="1796.00" font-size="80">Wavenumber(cm</text><text transform="matrix(1.0071 0 0 1 -10.53 0.45)" x="1458.00" y="1764.00" font-size="53">-</text><text transform="matrix(0.7550 0 0 1 363.48 -0.55)" x="1480.00" y="1764.00" font-size="53">1</text><text transform="matrix(1.0619 0 0 1 -92.27 -0.10)" x="1503.00" y="1796.00" font-size="80">)</text></g><text transform="translate(128 1082) rotate(-90) scale(0.9936 1)" x="0" y="0" font-size="80">Transmittance(a.u.)</text></svg></body></html>
